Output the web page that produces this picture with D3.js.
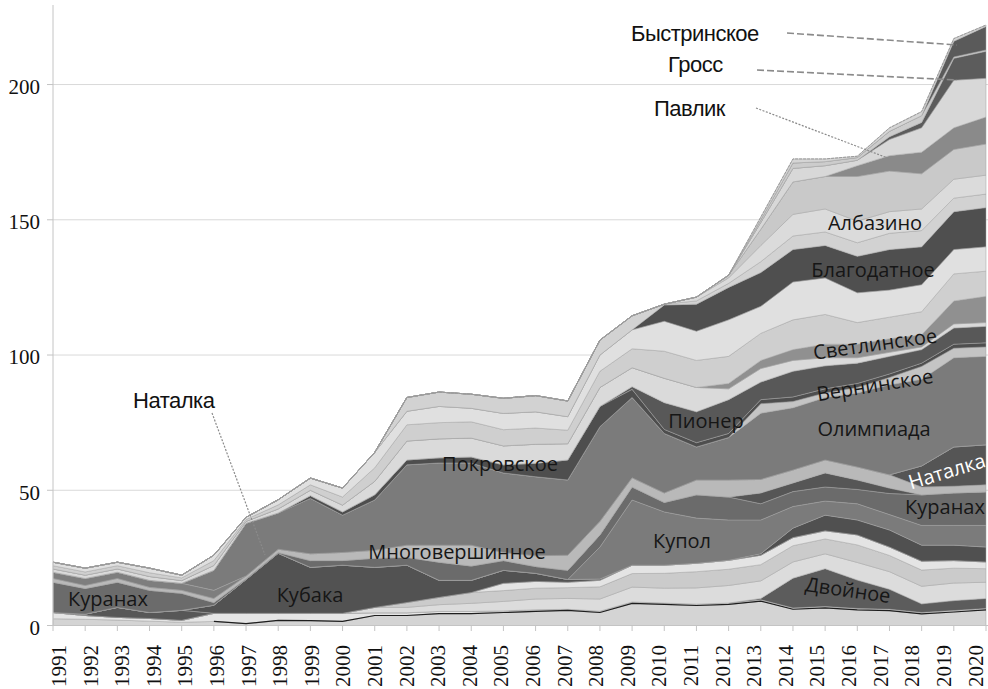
<!DOCTYPE html>
<html><head><meta charset="utf-8">
<script src="https://cdn.jsdelivr.net/npm/d3@7"></script>
<style>body{margin:0;background:#fff}svg{display:block}
.serif{font-family:'Liberation Serif','Times New Roman','DejaVu Serif',serif}
.arial{font-family:'Liberation Sans',Arial,sans-serif}
.cal{font-family:'Open Sans','Noto Sans',sans-serif}
</style>
</head><body>
<svg id="chart" width="988" height="689"></svg>
<script>
// ---------- DATA (values in tonnes, stacked bottom → top) ----------
const years = [1991,1992,1993,1994,1995,1996,1997,1998,1999,2000,2001,2002,2003,2004,2005,2006,2007,2008,2009,2010,2011,2012,2013,2014,2015,2016,2017,2018,2019,2020];
const yTicks = [0,50,100,150,200];

const base1   = [2.5,2.3,2.0,1.6,1.2,1.5,0.7,1.9,1.8,1.5,3.7,3.7,4.4,4.4,4.8,5.2,5.6,4.8,8.2,7.8,7.4,7.8,9.0,6.0,6.5,5.8,5.5,4.3,5.0,5.8];
const base2   = [2.3,1.4,1.0,1.0,0.7,3.0,3.8,2.6,2.7,3.0,1.0,1.0,0.8,0.8,0.6,0.6,0.4,0.5,0.5,0.5,0.5,0.5,0.5,0.5,0.5,0.5,0.5,0.5,0.5,0.5];
const dvoynoe = [0,0,0,0,0,0,0,0,0,0,0,0,0,0,0,0,0,0,0,0,0,0,0.5,11,14,10.5,7.4,3.2,3.7,3.7];
const misc1   = [0,0,0,0,0,0,0,0,0,0,2.0,2.0,2.5,3.0,3.5,4,4,4.5,5.5,5.5,6,6.5,6.5,6,5.5,6.5,6.5,6.5,6.5,6];
const misc2   = [0,0,0,0,0,0,0,0,0,0,0,1.8,2.7,4.0,4.0,4,4,4.5,5,5.5,6,6,6,6,5.5,6.5,6,6,5.5,5];
const misc3   = [0,0,0,0,0,0,0,0,0,0,0,0,0,0,2.7,2.5,2,2.4,3.1,3,3.1,3.3,3.5,3,3,3.7,3.1,3.3,2.8,2.5];
const early   = [0,0.5,3.7,2.2,3.7,0,0,0,0,0,0,0,0,0,0,0,0,0,0,0,0,0,0,0,0,0,0,0,0,0];
const kubaka  = [0,0,0,0,0,3.0,12.5,22.2,17,17.8,14.8,13.8,6.3,4.5,4.8,3,1,0.5,0,0,0,0,0,0,0,0,0,0,0,0];
const darkBand= [0,0,0,0,0,0,0,0,0,0,0,0,0,0,0,0,0,0,0,0,0,0,0.5,3.5,5.8,5.5,6.3,5.9,5.7,5.5];
const kupol   = [0,0,0,0,0,0,0,0,0,0,0,0,0,0,0,0,0,11.8,24.1,19.7,16.7,14.9,12.5,8,5.2,6,5.7,7.3,7.3,8];
const kuranakh= [11.2,9.5,9.3,8.2,6.3,1.0,0.3,0.3,2.5,1.7,3.4,2.9,6.7,5.3,3.6,2.5,3.4,4.5,4.8,3.5,8.6,8.5,6,5.5,5.2,5.3,7.8,11.3,12,12.4];
const wedge   = [0,0,0,0,0,0,0,0,0,0,0,0,0,0,0,0,0,0,0,0,0,0,4,3.2,5.2,3.5,2,0,0,0];
const mnogo   = [1.4,1.1,1.4,1.1,1.1,1.5,1.0,1.2,2.5,3.0,2.9,4.5,6.3,7.7,3.0,4,5.6,5,3.4,3.5,5.5,6.3,5,4.8,4.8,4.8,4.9,2.9,2.5,2.6];
const natalka = [0,0,0,0,0,0,0,0,0,0,0,0,0,0,0,0,0,0,0,0,0,0,0,0,0,0,0,7.8,14.5,14.8];
const otherMid= [2.3,2.6,2.3,2.6,2.6,3.0,0,0,0,0,0,0,0,0,0,0,0,0,0,0,0,0,0,0,0,0,0,0,0,0];
const olimp   = [0,0,0,0,0,7.4,19.5,13.4,20.5,13.8,18.6,29.7,30.4,30.4,29.4,29.2,27.8,35,29.7,22,12.2,15.7,24.5,23,23.1,27.4,33.3,32,33,32.7];
const vern    = [0,0,0,0,0,0,0,0,0,0,0,0,0,0,0,0,0,0,0,0,0,0,3.5,2.3,1.7,2,2.7,4.8,3.5,3.5];
const pokrov  = [0,0,0,0,0,0,0,0,1.0,1.2,1.9,1.8,1.9,2.2,3.0,5,7.4,7.5,3,1.5,1.6,1.5,1.5,1.7,1.5,1.5,1.3,1.2,1.5,1.5];
const pioner  = [0,0,0,0,0,0,0,0,0,0,0,0,0,0,0,0,0,0,1,9.9,11.4,12.5,6.5,9.5,8.5,7.5,6.5,5,6,6.1];
const misc4   = [1.2,1.2,1.2,1.4,1.0,1.8,0.7,1.5,2,2.5,5,7,7,7,7,7,6,7,7,9,9,4,5,4,3,2,1.5,1,1.5,1.4];
const svetl   = [0,0,0,0,0,0,0,0,0,0,0,0,0,0,0,0,0,0,0,0,0,2,3,4,5,5,5,4.5,8.5,9.7];
const misc5   = [1.2,1.2,1.2,1.4,1.0,1.8,0.7,1.5,2,3.0,5,6,6,6,6,6,5,6,7,10,10,10,10,11,11,8,8,8.5,10,9.3];
const misc6   = [1.3,1.4,1.3,1.7,1.0,2.0,0.8,1.9,2.5,3.3,5.7,5,6,5,6,6,5,6,7,11.1,10.8,13.5,10,14,13.5,11,10,10,9,9];
const blago   = [0,0,0,0,0,0,0,0,0,0,0,0,0,0,0,0,0,0,0,6,10,12,12.5,12,12,13.5,15,14,14,14.5];
const misc7   = [0,0,0,0,0,0,0,0,0,0,0,5.1,5.3,5.2,5.6,6,5.8,5.5,5.2,0.3,1.2,1.5,4,5,5,5,6,6,5,5];
const albaz   = [0,0,0,0,0,0,0,0,0,0,0,0,0,0,0,0,0,0,0,0,1.4,2,6,8,8.5,8,8,8,7,7];
const misc8   = [0,0,0,0,0,0,0,0,0,0,0,0,0,0,0,0,0,0,0,0,0,1,6,12,12,16.5,15,13,11,11.5];
const pavlik  = [0,0,0,0,0,0,0,0,0,0,0,0,0,0,0,0,0,0,0,0,0,0,0,0,0,4,5.7,8,8,10];
const misc9   = [0,0,0,0,0,0,0,0,0,0,0,0,0,0,0,0,0,0,0,0,0,0,2.5,5,4,2,6,9,17.6,14.3];
const gross   = [0,0,0,0,0,0,0,0,0,0,0,0,0,0,0,0,0,0,0,0,0,0,0,0,0,0,1,2,8.1,10];
const misc10  = [0,0,0,0,0,0,0,0,0,0,0,0,0,0,0,0,0,0,0,0,0,0,1,2,1.5,1,2,2.5,0.5,0.5];
const bystr   = [0,0,0,0,0,0,0,0,0,0,0,0,0,0,0,0,0,0,0,0,0,0,0,0,0,0,0,0,5.8,8.7];
const misc11  = [0,0,0,0,0,0,0,0,0,0,0,0,0,0,0,0,0,0,0,0,0,0,1,1.5,1,0.5,1.3,1.5,1,0.5];

// series order (bottom → top)
const seriesList = [
  ["Прочие 1", base1], ["Прочие 2", base2], ["Двойное", dvoynoe], ["Прочие 3", misc1],
  ["Прочие 4", misc2], ["Прочие 5", misc3], ["Прочие 6", early], ["Кубака", kubaka],
  ["Прочие 7", darkBand], ["Купол", kupol], ["Куранах", kuranakh], ["Прочие 8", wedge],
  ["Многовершинное", mnogo], ["Наталка", natalka], ["Прочие 9", otherMid], ["Олимпиада", olimp],
  ["Вернинское", vern], ["Покровское", pokrov], ["Пионер", pioner], ["Прочие 10", misc4],
  ["Светлинское", svetl], ["Прочие 11", misc5], ["Прочие 12", misc6], ["Благодатное", blago],
  ["Прочие 13", misc7], ["Албазино", albaz], ["Прочие 14", misc8], ["Павлик", pavlik],
  ["Прочие 15", misc9], ["Гросс", gross], ["Прочие 16", misc10], ["Быстринское", bystr],
  ["Прочие 17", misc11]
];
// fills (same order)
const fills = ["#d4d4d4","#e5e5e5","#5c5c5c","#dcdcdc","#cbcbcb","#e4e4e4","#575757","#525252",
  "#505050","#7b7b7b","#6b6b6b","#565656","#b9b9b9","#555555","#7e7e7e","#7b7b7b",
  "#c4c4c4","#4e4e4e","#585858","#dadada","#909090","#cfcfcf","#e0e0e0","#4f4f4f",
  "#d2d2d2","#dbdbdb","#c9c9c9","#8a8a8a","#d8d8d8","#5c5c5c","#cccccc","#5a5a5a","#d5d5d5"];

// ---------- CHART ----------
const svg = d3.select("#chart");
const x = d3.scaleLinear().domain([1991, 2020]).range([53, 986]);
const y = d3.scaleLinear().domain([0, 230]).range([625.5, 3.4]);

const keys = seriesList.map((s, i) => "s" + i);
const rows = years.map((yr, j) => {
  const r = { year: yr };
  seriesList.forEach((s, i) => r["s" + i] = s[1][j]);
  return r;
});
const stacked = d3.stack().keys(keys)(rows);

// gridlines
svg.append("g").selectAll("line").data(yTicks.filter(d => d > 0)).join("line")
  .attr("x1", 53).attr("x2", 988).attr("y1", d => y(d)).attr("y2", d => y(d))
  .attr("stroke", "#d9d9d9").attr("stroke-width", 1);

// areas
const area = d3.area().x(d => x(d.data.year)).y0(d => y(d[0])).y1(d => y(d[1]));
svg.append("g").selectAll("path").data(stacked).join("path")
  .attr("d", area)
  .attr("fill", (d, i) => fills[i])
  .attr("stroke", "#a3a3a3").attr("stroke-width", 0.5);

// black edge on top of the bottom layer (from 1996)
const edge = d3.line().defined(d => d.data.year >= 1996).x(d => x(d.data.year)).y(d => y(d[1]));
svg.append("path").attr("d", edge(stacked[0])).attr("fill", "none")
  .attr("stroke", "#1e1e1e").attr("stroke-width", 1.2);

// outer top outline
svg.append("path").attr("d", d3.line().x(d => x(d.data.year)).y(d => y(d[1]))(stacked[stacked.length - 1]))
  .attr("fill", "none").attr("stroke", "#9a9a9a").attr("stroke-width", 1).attr("stroke-dasharray", "3,1");

// y axis
svg.append("line").attr("x1", 53).attr("x2", 53).attr("y1", 5).attr("y2", 625.5)
  .attr("stroke", "#c4c4c4");
const yg = svg.append("g");
yg.selectAll("line").data(yTicks).join("line")
  .attr("x1", 47).attr("x2", 53).attr("y1", d => y(d)).attr("y2", d => y(d)).attr("stroke", "#c4c4c4");
yg.selectAll("text").data(yTicks).join("text")
  .attr("class", "serif").attr("style", "font-family:'Liberation Serif','DejaVu Serif',serif")
  .attr("x", 40).attr("y", d => y(d) + 2).attr("dy", "0.35em").attr("text-anchor", "end")
  .attr("font-size", 21).attr("fill", "#111")
  .text(d => d);

// x axis
svg.append("line").attr("x1", 53).attr("x2", 988).attr("y1", 625.5).attr("y2", 625.5)
  .attr("stroke", "#c4c4c4");
const xg = svg.append("g");
xg.selectAll("line").data(years).join("line")
  .attr("x1", d => x(d)).attr("x2", d => x(d)).attr("y1", 625.5).attr("y2", 631).attr("stroke", "#c4c4c4");
const labelShift = d3.scaleLinear().domain([1991, 2020]).range([13, -3.5]);
xg.selectAll("text").data(years).join("text")
  .attr("class", "serif").attr("style", "font-family:'Liberation Serif','DejaVu Serif',serif")
  .attr("transform", d => `translate(${x(d) + labelShift(d)},645) rotate(-90)`)
  .attr("text-anchor", "end")
  .attr("font-size", 21).attr("fill", "#111")
  .text(d => d);

// leader lines + outside labels
const leaders = [
  { t: "Быстринское", tx: 631, ty: 41, x1: 787, y1: 33, x2: 957, y2: 45, dash: "7,3", w: 1.6 },
  { t: "Гросс", tx: 668, ty: 72, x1: 757, y1: 70, x2: 957, y2: 80, dash: "7,3", w: 1.6 },
  { t: "Павлик", tx: 654, ty: 116, x1: 756, y1: 108, x2: 893, y2: 160, dash: "2,1.5", w: 1.2 },
  { t: "Наталка", tx: 133, ty: 408, x1: 212, y1: 413, x2: 265, y2: 555, dash: "2,1.5", w: 1.2 }
];
const lg = svg.append("g");
lg.selectAll("line").data(leaders).join("line")
  .attr("x1", d => d.x1).attr("y1", d => d.y1).attr("x2", d => d.x2).attr("y2", d => d.y2)
  .attr("stroke", "#8a8a8a").attr("stroke-width", d => d.w).attr("stroke-dasharray", d => d.dash);
lg.selectAll("text").data(leaders).join("text")
  .attr("class", "arial")
  .attr("x", d => d.tx).attr("y", d => d.ty)
  .attr("font-size", 22)
  .attr("letter-spacing", "-0.5px").attr("fill", "#111").text(d => d.t);

// inner labels
const inner = [
  { t: "Куранах", cx: 108, cy: 606, r: 0 },
  { t: "Кубака", cx: 310, cy: 602, r: 0 },
  { t: "Многовершинное", cx: 457, cy: 559, r: 0 },
  { t: "Покровское", cx: 500, cy: 471, r: 0 },
  { t: "Купол", cx: 682, cy: 548, r: 0 },
  { t: "Пионер", cx: 706, cy: 428, r: 0 },
  { t: "Олимпиада", cx: 874, cy: 436, r: 0 },
  { t: "Двойное", cx: 847, cy: 597, r: 8 },
  { t: "Куранах", cx: 945, cy: 514, r: 0 },
  { t: "Наталка", cx: 949, cy: 478, r: -17, white: true },
  { t: "Вернинское", cx: 876, cy: 392, r: -9 },
  { t: "Светлинское", cx: 876, cy: 351, r: -8 },
  { t: "Благодатное", cx: 873, cy: 277, r: 0 },
  { t: "Албазино", cx: 875, cy: 230, r: 0 }
];
svg.append("g").selectAll("text").data(inner).join("text")
  .attr("class", "cal")
  .attr("transform", d => `translate(${d.cx},${d.cy}) rotate(${d.r})`)
  .attr("text-anchor", "middle")
  .attr("font-size", 20)
  .attr("fill", d => d.white ? "#ffffff" : "#161616")
  .text(d => d.t);
</script>
</body></html>
